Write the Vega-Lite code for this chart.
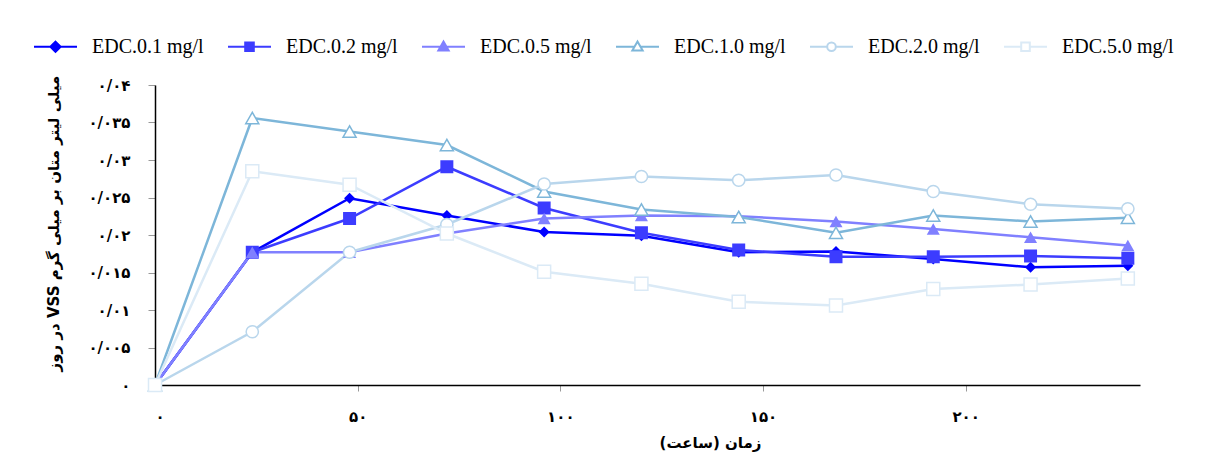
{
  "$schema": "https://vega.github.io/schema/vega-lite/v6.json",
  "width": 985,
  "height": 300,
  "autosize": {"type": "none"},
  "padding": {"left": 155, "top": 85, "right": 70, "bottom": 71},
  "background": "white",
  "config": {
    "view": {"stroke": null},
    "axis": {
      "grid": false,
      "domainColor": "#000000",
      "domainWidth": 1.5,
      "tickColor": "#999999",
      "tickWidth": 1,
      "labelFont": "DejaVu Sans",
      "labelFontWeight": "bold",
      "labelFontSize": 15,
      "labelColor": "#000000",
      "titleFont": "DejaVu Sans",
      "titleFontWeight": "bold",
      "titleFontSize": 15,
      "titleColor": "#000000"
    }
  },
  "data": {
    "values": [
      {"t": 0, "v": 0, "s": "EDC.0.1 mg/l"},
      {"t": 24, "v": 0.0177, "s": "EDC.0.1 mg/l"},
      {"t": 48, "v": 0.0249, "s": "EDC.0.1 mg/l"},
      {"t": 72, "v": 0.0226, "s": "EDC.0.1 mg/l"},
      {"t": 96, "v": 0.0204, "s": "EDC.0.1 mg/l"},
      {"t": 120, "v": 0.0199, "s": "EDC.0.1 mg/l"},
      {"t": 144, "v": 0.0177, "s": "EDC.0.1 mg/l"},
      {"t": 168, "v": 0.0178, "s": "EDC.0.1 mg/l"},
      {"t": 192, "v": 0.0168, "s": "EDC.0.1 mg/l"},
      {"t": 216, "v": 0.0157, "s": "EDC.0.1 mg/l"},
      {"t": 240, "v": 0.0159, "s": "EDC.0.1 mg/l"},
      {"t": 0, "v": 0, "s": "EDC.0.2 mg/l"},
      {"t": 24, "v": 0.0177, "s": "EDC.0.2 mg/l"},
      {"t": 48, "v": 0.0222, "s": "EDC.0.2 mg/l"},
      {"t": 72, "v": 0.0291, "s": "EDC.0.2 mg/l"},
      {"t": 96, "v": 0.0236, "s": "EDC.0.2 mg/l"},
      {"t": 120, "v": 0.0203, "s": "EDC.0.2 mg/l"},
      {"t": 144, "v": 0.0180, "s": "EDC.0.2 mg/l"},
      {"t": 168, "v": 0.0171, "s": "EDC.0.2 mg/l"},
      {"t": 192, "v": 0.0171, "s": "EDC.0.2 mg/l"},
      {"t": 216, "v": 0.0172, "s": "EDC.0.2 mg/l"},
      {"t": 240, "v": 0.0169, "s": "EDC.0.2 mg/l"},
      {"t": 0, "v": 0, "s": "EDC.0.5 mg/l"},
      {"t": 24, "v": 0.0177, "s": "EDC.0.5 mg/l"},
      {"t": 48, "v": 0.0177, "s": "EDC.0.5 mg/l"},
      {"t": 72, "v": 0.0202, "s": "EDC.0.5 mg/l"},
      {"t": 96, "v": 0.0222, "s": "EDC.0.5 mg/l"},
      {"t": 120, "v": 0.0226, "s": "EDC.0.5 mg/l"},
      {"t": 144, "v": 0.0225, "s": "EDC.0.5 mg/l"},
      {"t": 168, "v": 0.0218, "s": "EDC.0.5 mg/l"},
      {"t": 192, "v": 0.0208, "s": "EDC.0.5 mg/l"},
      {"t": 216, "v": 0.0197, "s": "EDC.0.5 mg/l"},
      {"t": 240, "v": 0.0186, "s": "EDC.0.5 mg/l"},
      {"t": 0, "v": 0, "s": "EDC.1.0 mg/l"},
      {"t": 24, "v": 0.0356, "s": "EDC.1.0 mg/l"},
      {"t": 48, "v": 0.0338, "s": "EDC.1.0 mg/l"},
      {"t": 72, "v": 0.0320, "s": "EDC.1.0 mg/l"},
      {"t": 96, "v": 0.0258, "s": "EDC.1.0 mg/l"},
      {"t": 120, "v": 0.0234, "s": "EDC.1.0 mg/l"},
      {"t": 144, "v": 0.0224, "s": "EDC.1.0 mg/l"},
      {"t": 168, "v": 0.0203, "s": "EDC.1.0 mg/l"},
      {"t": 192, "v": 0.0226, "s": "EDC.1.0 mg/l"},
      {"t": 216, "v": 0.0218, "s": "EDC.1.0 mg/l"},
      {"t": 240, "v": 0.0223, "s": "EDC.1.0 mg/l"},
      {"t": 0, "v": 0, "s": "EDC.2.0 mg/l"},
      {"t": 24, "v": 0.0071, "s": "EDC.2.0 mg/l"},
      {"t": 48, "v": 0.0177, "s": "EDC.2.0 mg/l"},
      {"t": 72, "v": 0.0214, "s": "EDC.2.0 mg/l"},
      {"t": 96, "v": 0.0268, "s": "EDC.2.0 mg/l"},
      {"t": 120, "v": 0.0278, "s": "EDC.2.0 mg/l"},
      {"t": 144, "v": 0.0273, "s": "EDC.2.0 mg/l"},
      {"t": 168, "v": 0.0280, "s": "EDC.2.0 mg/l"},
      {"t": 192, "v": 0.0258, "s": "EDC.2.0 mg/l"},
      {"t": 216, "v": 0.0241, "s": "EDC.2.0 mg/l"},
      {"t": 240, "v": 0.0235, "s": "EDC.2.0 mg/l"},
      {"t": 0, "v": 0, "s": "EDC.5.0 mg/l"},
      {"t": 24, "v": 0.0285, "s": "EDC.5.0 mg/l"},
      {"t": 48, "v": 0.0267, "s": "EDC.5.0 mg/l"},
      {"t": 72, "v": 0.0202, "s": "EDC.5.0 mg/l"},
      {"t": 96, "v": 0.0151, "s": "EDC.5.0 mg/l"},
      {"t": 120, "v": 0.0135, "s": "EDC.5.0 mg/l"},
      {"t": 144, "v": 0.0111, "s": "EDC.5.0 mg/l"},
      {"t": 168, "v": 0.0106, "s": "EDC.5.0 mg/l"},
      {"t": 192, "v": 0.0128, "s": "EDC.5.0 mg/l"},
      {"t": 216, "v": 0.0134, "s": "EDC.5.0 mg/l"},
      {"t": 240, "v": 0.0142, "s": "EDC.5.0 mg/l"}
    ]
  },
  "encoding": {
    "x": {
      "field": "t",
      "type": "quantitative",
      "scale": {"domain": [0, 243], "nice": false},
      "axis": {
        "values": [0, 50, 100, 150, 200],
        "tickSize": 6,
        "labelPadding": 18,
        "labelExpr": "replace(replace(replace(replace(replace(replace(replace(replace(replace(replace(replace(format(datum.value,'.3~f'),regexp('0','g'),'۰'),regexp('1','g'),'۱'),regexp('2','g'),'۲'),regexp('3','g'),'۳'),regexp('4','g'),'۴'),regexp('5','g'),'۵'),regexp('6','g'),'۶'),regexp('7','g'),'۷'),regexp('8','g'),'۸'),regexp('9','g'),'۹'),regexp('[.]','g'),'/')",
        "title": "‫زمان (ساعت)‬",
        "titleX": 555,
        "titlePadding": 11
      }
    },
    "y": {
      "field": "v",
      "type": "quantitative",
      "scale": {"domain": [0, 0.04], "nice": false},
      "axis": {
        "values": [0, 0.005, 0.01, 0.015, 0.02, 0.025, 0.03, 0.035, 0.04],
        "tickSize": 7,
        "labelPadding": 18,
        "labelExpr": "replace(replace(replace(replace(replace(replace(replace(replace(replace(replace(replace(format(datum.value,'.3~f'),regexp('0','g'),'۰'),regexp('1','g'),'۱'),regexp('2','g'),'۲'),regexp('3','g'),'۳'),regexp('4','g'),'۴'),regexp('5','g'),'۵'),regexp('6','g'),'۶'),regexp('7','g'),'۷'),regexp('8','g'),'۸'),regexp('9','g'),'۹'),regexp('[.]','g'),'/')",
        "title": "‫میلی لیتر متان بر میلی گرم VSS در روز‬",
        "titleY": 138,
        "titlePadding": 26
      }
    }
  },
  "layer": [
    {
      "mark": {"type": "line", "strokeWidth": 2.5},
      "encoding": {
        "color": {
          "field": "s",
          "type": "nominal",
          "scale": {
            "domain": ["EDC.0.1 mg/l", "EDC.0.2 mg/l", "EDC.0.5 mg/l", "EDC.1.0 mg/l", "EDC.2.0 mg/l", "EDC.5.0 mg/l"],
            "range": ["#0000ff", "#3c3cff", "#8080ff", "#7db6d9", "#b9d6ec", "#dbeaf6"]
          },
          "legend": {
            "title": null,
            "orient": "none",
            "legendX": -122,
            "legendY": -61,
            "direction": "horizontal",
            "columns": 6,
            "labelFont": "Liberation Serif",
            "labelFontSize": 20,
            "labelColor": "#000000",
            "labelOffset": 14,
            "columnPadding": 20,
            "symbolSize": 1849,
            "symbolStrokeWidth": 2,
            "encode": {
              "symbols": {
                "update": {
                  "shape": {"signal": "datum.value === 'EDC.0.1 mg/l' ? 'M-1,0H1M0,-0.24L0.24,0L0,0.24L-0.24,0Z' : datum.value === 'EDC.0.2 mg/l' ? 'M-1,0H1M-0.2,-0.2H0.2V0.2H-0.2Z' : datum.value === 'EDC.0.5 mg/l' ? 'M-1,0H1M0,-0.24L0.24,0.18H-0.24Z' : datum.value === 'EDC.1.0 mg/l' ? 'M-1,0H-0.14M0.14,0H1M0,-0.24L0.24,0.18H-0.24Z' : datum.value === 'EDC.2.0 mg/l' ? 'M-1,0H-0.2M0.2,0H1M-0.2,0A0.2,0.2,0,1,0,0.2,0A0.2,0.2,0,1,0,-0.2,0Z' : 'M-1,0H-0.2M0.2,0H1M-0.2,-0.2H0.2V0.2H-0.2Z'"},
                  "fill": {"signal": "indexof(['EDC.1.0 mg/l','EDC.2.0 mg/l','EDC.5.0 mg/l'], datum.value) >= 0 ? '#ffffff' : scale('color', datum.value)"},
                  "stroke": {"signal": "scale('color', datum.value)"},
                  "strokeWidth": {"value": 2},
                  "opacity": {"value": 1}
                }
              }
            }
          }
        }
      }
    },
    {
      "transform": [{"filter": "datum.s === 'EDC.0.1 mg/l'"}],
      "mark": {"type": "point", "shape": "diamond", "size": 121, "filled": true, "opacity": 1, "color": "#0000ff"}
    },
    {
      "transform": [{"filter": "datum.s === 'EDC.0.2 mg/l'"}],
      "mark": {"type": "point", "shape": "square", "size": 169, "filled": true, "opacity": 1, "color": "#3c3cff"}
    },
    {
      "transform": [{"filter": "datum.s === 'EDC.0.5 mg/l'"}],
      "mark": {"type": "point", "shape": "triangle-up", "size": 170, "filled": true, "opacity": 1, "color": "#8080ff"}
    },
    {
      "transform": [{"filter": "datum.s === 'EDC.1.0 mg/l'"}],
      "mark": {"type": "point", "shape": "triangle-up", "size": 170, "filled": false, "opacity": 1, "fill": "#ffffff", "fillOpacity": 1, "stroke": "#7db6d9", "strokeWidth": 1.5}
    },
    {
      "transform": [{"filter": "datum.s === 'EDC.2.0 mg/l'"}],
      "mark": {"type": "point", "shape": "circle", "size": 150, "filled": false, "opacity": 1, "fill": "#ffffff", "fillOpacity": 1, "stroke": "#b9d6ec", "strokeWidth": 1.5}
    },
    {
      "transform": [{"filter": "datum.s === 'EDC.5.0 mg/l'"}],
      "mark": {"type": "point", "shape": "square", "size": 169, "filled": false, "opacity": 1, "fill": "#ffffff", "fillOpacity": 1, "stroke": "#dbeaf6", "strokeWidth": 1.5}
    }
  ]
}
